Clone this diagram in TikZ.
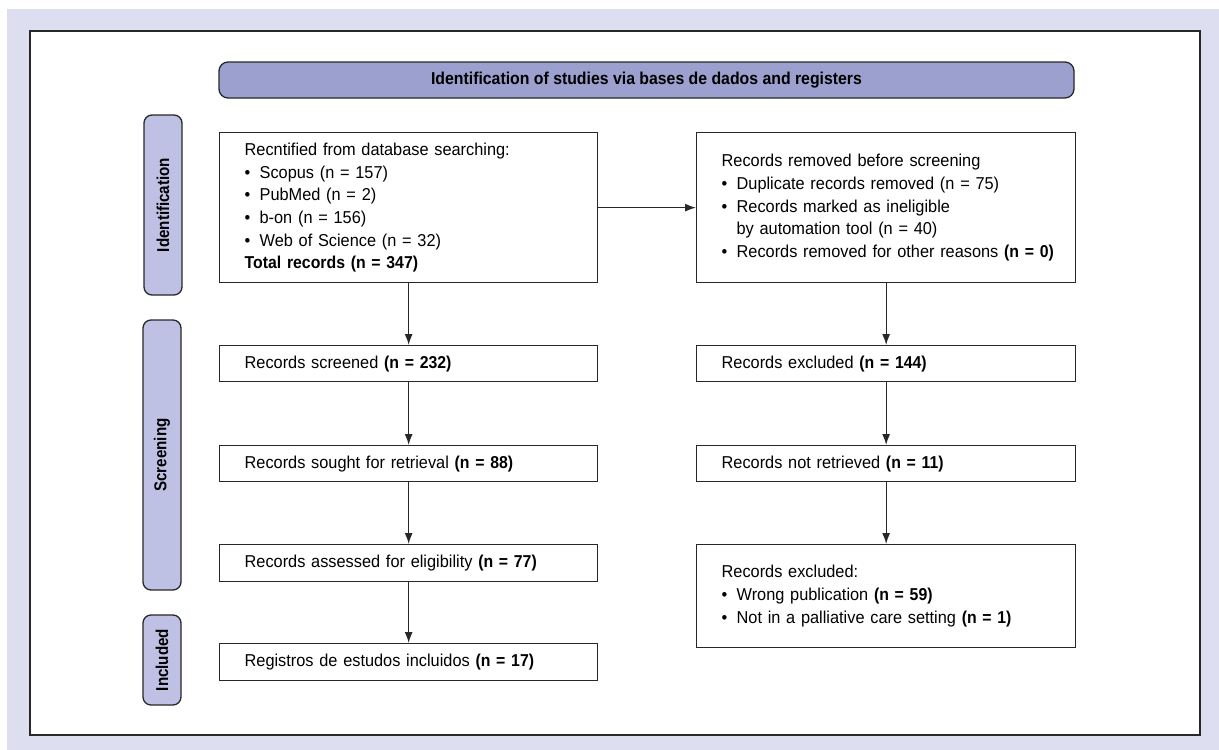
\documentclass[tikz,border=0pt]{standalone}
\usepackage{fontspec}
\setmainfont{Liberation Sans}[FakeStretch=0.95, BoldFeatures={FakeStretch=0.92}]
\newfontfamily\sidefont{Liberation Sans}[FakeStretch=0.88, BoldFeatures={FakeStretch=0.88}]
\usetikzlibrary{arrows.meta}
\definecolor{bgl}{RGB}{221,222,240}
\definecolor{hdr}{RGB}{155,160,207}
\definecolor{sidec}{RGB}{190,193,228}
\definecolor{ln}{RGB}{40,40,40}
\newcommand\bul{\makebox[15pt][l]{•}}
\newcommand\bulsp{\hspace*{15pt}}
\tikzset{
  txt/.style={font=\fontsize{17.2pt}{22.7pt}\selectfont},
  flowbox/.style={txt, draw=ln, line width=1.3pt, fill=white, anchor=north west,
    inner xsep=25pt, inner ysep=0pt, align=left, text width=328pt},
  rflowbox/.style={flowbox, text width=329pt},
  sidebox/.style={font=\fontsize{17.2pt}{22.7pt}\sidefont\bfseries, draw=ln, line width=1.3pt,
    fill=sidec, rounded corners=8pt, rotate=90, inner sep=0pt, minimum height=38pt},
  hdrbox/.style={font=\fontsize{17.2pt}{22.7pt}\selectfont\bfseries, draw=ln, line width=1.3pt,
    fill=hdr, rounded corners=9pt, inner sep=0pt, minimum width=855pt, minimum height=36pt},
  arr/.style={draw=ln, line width=1.3pt, -{Latex[length=11pt,width=8pt]}}
}
\begin{document}
\begin{tikzpicture}[x=1pt,y=-1pt]
\useasboundingbox (0,0) rectangle (1219,750);
\fill[bgl] (7,9) rectangle (1219,750);
\draw[ln, line width=1.5pt, fill=white] (30,31) rectangle (1200,735);

\node[hdrbox] (hdr) at (646.5,80) {Identification of studies via bases de dados and registers};

\node[sidebox, minimum width=180pt] (sid) at (163,205) {Identification};
\node[sidebox, minimum width=270pt] (sscr) at (162,455) {Screening};
\node[sidebox, minimum width=90pt] (sinc) at (162,660) {Included};

\node[flowbox, minimum height=150pt] (l1) at (219,132) {Recntified from database searching:\\
\bul Scopus (n = 157)\\
\bul PubMed (n = 2)\\
\bul b-on (n = 156)\\
\bul Web of Science (n = 32)\\
\textbf{Total records (n = 347)}};
\node[flowbox, minimum height=36pt] (l2) at (219,345) {Records screened \textbf{(n = 232)}};
\node[flowbox, minimum height=36pt] (l3) at (219,445) {Records sought for retrieval \textbf{(n = 88)}};
\node[flowbox, minimum height=37pt] (l4) at (219,544) {Records assessed for eligibility \textbf{(n = 77)}};
\node[flowbox, minimum height=37pt] (l5) at (219,643) {Registros de estudos incluidos \textbf{(n = 17)}};

\node[rflowbox, minimum height=150pt] (r1) at (696,132) {Records removed before screening\\
\bul Duplicate records removed (n = 75)\\
\bul Records marked as ineligible\\
\bulsp by automation tool (n = 40)\\
\mbox{\bul Records removed for other reasons \textbf{(n = 0)}}};
\node[rflowbox, minimum height=36pt] (r2) at (696,345) {Records excluded \textbf{(n = 144)}};
\node[rflowbox, minimum height=36pt] (r3) at (696,445) {Records not retrieved \textbf{(n = 11)}};
\node[rflowbox, minimum height=103pt] (r4) at (696,544) {Records excluded:\\
\bul Wrong publication \textbf{(n = 59)}\\
\bul Not in a palliative care setting \textbf{(n = 1)}};

\draw[arr] (l1.east) -- (r1.west);
\draw[arr] (l1.south) -- (l2.north);
\draw[arr] (l2.south) -- (l3.north);
\draw[arr] (l3.south) -- (l4.north);
\draw[arr] (l4.south) -- (l5.north);
\draw[arr] (r1.south) -- (r2.north);
\draw[arr] (r2.south) -- (r3.north);
\draw[arr] (r3.south) -- (r4.north);
\end{tikzpicture}
\end{document}
